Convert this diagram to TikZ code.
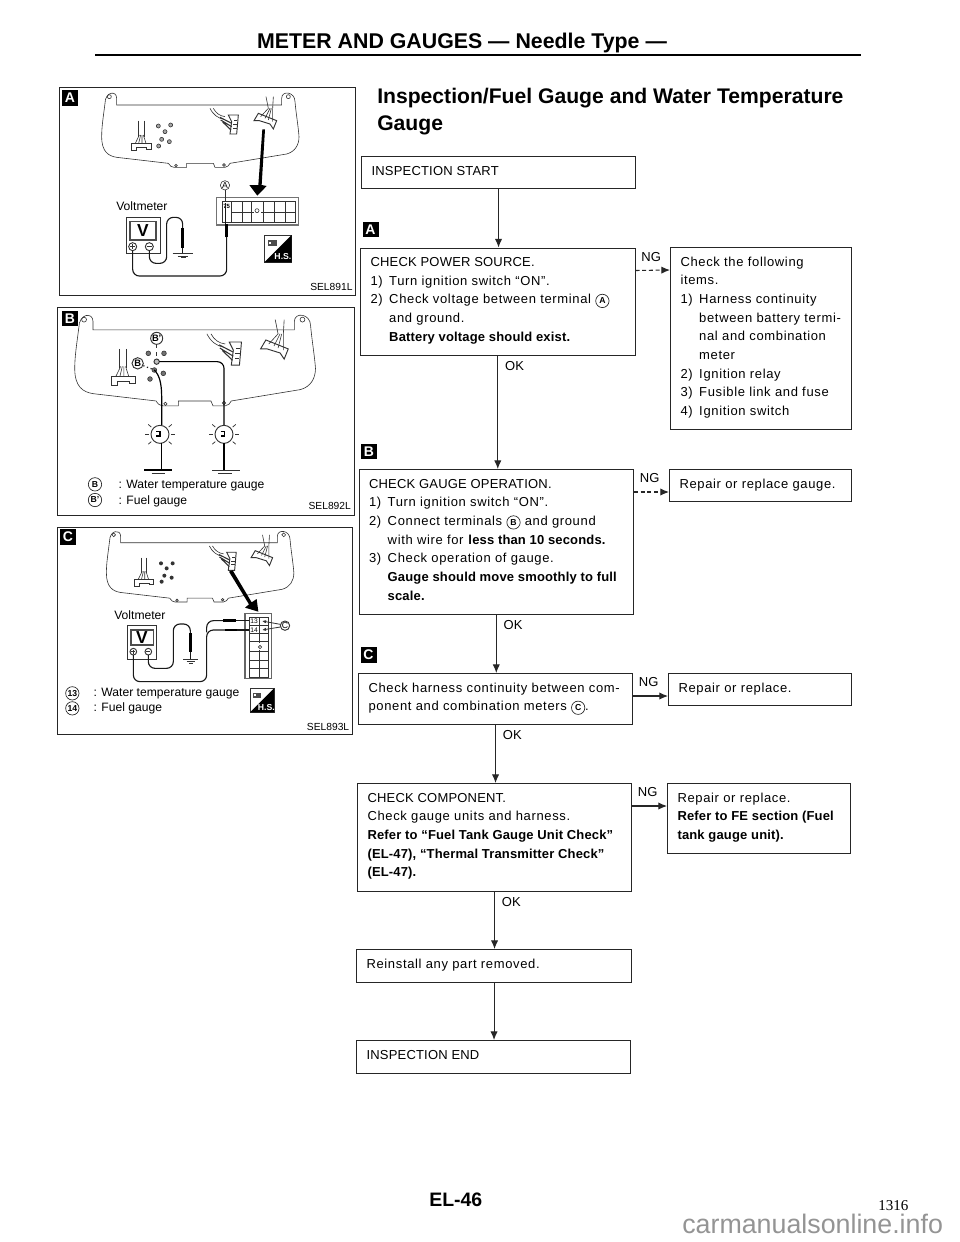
\documentclass[tikz,border=0pt]{standalone}
\usepackage{fontspec}
\usetikzlibrary{arrows.meta,calc}
\setmainfont{Liberation Sans}
\newfontfamily\bodyfam[LetterSpace=5,BoldFeatures={LetterSpace=1.2}]{Liberation Sans}
\newfontfamily\capfam[LetterSpace=1.5]{Liberation Sans}
\newfontfamily\numfam{Liberation Serif}
\newlength\pxu \setlength\pxu{0.75pt}
\newcommand\bodyf{\fontsize{9.75pt}{14pt}\selectfont\bodyfam}
\newcommand\capf{\capfam}
\newcommand\clet[1]{\tikz[baseline=(cl.base),x=1pt,y=1pt]\node[draw=black!85,circle,inner sep=0pt,line width=.5pt,minimum size=10pt,font=\fontsize{6.5pt}{7pt}\selectfont\bfseries] (cl) {#1};}
\newcommand\nli[2]{\makebox[18.7\pxu][l]{#1}#2}
\newcommand\nind{\hspace*{18.7\pxu}}
\newcommand\boxbody[3]{\parbox[c][#2\pxu][t]{#1\pxu}{\vspace*{5.2\pxu}\leftskip=10\pxu\rightskip=0pt plus 1fil\fontsize{9.75pt}{14pt}\selectfont\rule{0pt}{10pt}#3\par}}
\tikzset{
 flowbox/.style={draw=black!85,rectangle,anchor=north west,inner sep=0pt,line width=0.8pt,font=\bodyf},
 flow/.style={draw=black!85,line width=0.8pt,-{Latex[length=6.5pt,width=5.5pt]}},
 flabel/.style={anchor=base west,inner sep=0pt,font=\bodyf\capfam},
 badge/.style={fill=black,text=white,inner sep=0pt,minimum width=12pt,minimum height=11.5pt,font=\fontsize{10.5pt}{11pt}\selectfont\rmfamily},
 frame/.style={draw=black!85,line width=0.75pt},
 ln/.style={draw=black!80,line width=0.45pt},
 wire/.style={draw=black!90,line width=0.85pt,rounded corners=5pt},
 probe/.style={draw=black,line width=2pt},
 ptext/.style={anchor=base west,inner sep=0pt,font=\fontsize{9.1pt}{11pt}\selectfont},
 sel/.style={anchor=base west,inner sep=0pt,font=\fontsize{7.7pt}{9pt}\selectfont},
 zoomed/.style={x=0.25pt,y=-0.25pt}
}
\newcommand\clusterbody{%
 \draw[ln] (165,70) .. controls (160,110) and (155,140) .. (155,170) .. controls (155,215) and (175,228) .. (200,232) -- (355,250) .. controls (360,258) and (365,262) .. (372,262) -- (410,262) -- (410,250) -- (490,250) -- (495,262) -- (525,262) .. controls (533,262) and (537,255) .. (540,250) -- (710,222) .. controls (735,215) and (747,195) .. (747,170) .. controls (745,140) and (738,100) .. (735,65) .. controls (735,35) and (695,30) .. (695,55) -- (695,75) -- (200,75) -- (200,55) .. controls (200,30) and (165,35) .. (165,70) -- cycle;
 \draw[ln] (178,50) circle (6) (715,50) circle (6) (378,257) circle (4) (522,255) circle (4);
 % left connector
 \draw[ln] (265,122) -- (265,170) (282,122) -- (282,170);
 \draw[ln] (268,165) -- (256,190) (272,165) -- (266,190) (276,165) -- (276,190) (280,165) -- (288,190);
 \draw[ln,line width=.7pt] (245,190) -- (305,190) -- (305,208) -- (290,208) -- (290,203) -- (260,203) -- (260,212) -- (245,212) -- cycle;
 % sender
 \draw[ln] (480,85) .. controls (490,105) and (505,115) .. (522,118) (490,85) .. controls (498,100) and (510,108) .. (525,110);
 \draw[ln,line width=.8pt] (510,112) -- (545,130) (512,120) -- (545,140) (518,126) -- (543,150);
 \draw[ln,line width=.7pt] (535,105) -- (565,105) -- (560,162) -- (540,162) -- (545,125) -- cycle;
 \draw[ln] (552,120) -- (562,120) (550,132) -- (561,132) (550,144) -- (560,144);
 % right connector
 \draw[ln] (648,50) -- (655,85) (670,50) -- (668,85);
 \draw[ln] (655,85) -- (632,110) (660,85) -- (645,115) (664,85) -- (655,120) (668,85) -- (668,125);
 \draw[ln,line width=.7pt] (625,100) -- (680,122) -- (670,147) -- (660,132) -- (628,122) -- (612,122) -- cycle;
}
\newcommand\hsicon[3]{\begin{scope}[shift={(#1,#2)}]
 \draw[ln] (0,0) rectangle (#3,#3);
 \fill (#3,0) -- (#3,#3) -- (0,#3) -- cycle;
 \node[white,inner sep=0pt,font=\fontsize{6.5pt}{7pt}\selectfont\bfseries] at ({.68*#3},{.78*#3}) {H.S.};
 \fill[black!70] ({.12*#3},{.18*#3}) rectangle ({.45*#3},{.42*#3});
 \fill[white] ({.18*#3},{.24*#3}) rectangle ({.26*#3},{.32*#3});
 \end{scope}}
\begin{document}
\begin{tikzpicture}[x=0.75pt,y=-0.75pt]
\useasboundingbox (0,0) rectangle (960,1242);
\fill[white] (0,0) rectangle (960,1242);

% header
\node[anchor=base,inner sep=0pt,font=\fontsize{16pt}{18pt}\selectfont\bfseries] (title) at (462,48) {METER AND GAUGES — Needle Type —};
\coordinate (ruleL) at (95,55); \coordinate (ruleR) at (861,55);
\draw[black,line width=2pt] (ruleL) -- (ruleR);
\node[anchor=base west,inner sep=0pt,font=\fontsize{15.85pt}{20pt}\selectfont\bfseries] (head1) at (377,103) {Inspection/Fuel Gauge and Water Temperature};
\node[anchor=base west,inner sep=0pt,font=\fontsize{15.85pt}{20pt}\selectfont\bfseries] (head2) at (377,130) {Gauge};

% panel frames
\draw[frame] (59,87) rectangle (355,295);
\draw[frame] (57,307) rectangle (354,515);
\draw[frame] (57,527) rectangle (352,734);
\node[badge] (pA) at (70,98) {\textbf{A}};
\node[badge] (pB) at (70,318.5) {\textbf{B}};
\node[badge] (pC) at (68,537) {\textbf{C}};

% panel A
\begin{scope}[shift={(50,80)},zoomed]
 \clusterbody
 \foreach \p in {(325,138),(362,135),(345,155),(335,178),(358,185),(326,198)} {\draw[ln,fill=black!35] \p circle (6);}
 \fill (637,148) -- (645,148) -- (635,315) -- (650,318) -- (622,347) -- (598,315) -- (625,315) -- cycle;
 \draw[draw=black!55,line width=1.2pt] (500,352) rectangle (745,435);
 \draw[ln] (518,365) rectangle (735,428);
 \draw[ln] (545,365) -- (545,428) (577,365) -- (577,428) (605,365) -- (605,428) (640,365) -- (640,428) (672,365) -- (672,428) (705,365) -- (705,428) (545,396) -- (735,396);
 \fill[white] (612,382) rectangle (632,402); \draw[ln] (621,392) circle (6);
 \node[inner sep=0pt,font=\fontsize{4.5pt}{5pt}\selectfont\bfseries] at (530,380) {75};
 \draw[ln] (525,316) circle (14);
 \node[inner sep=0pt,font=\fontsize{6.5pt}{7pt}\selectfont] at (525,316) {A};
 \draw[ln] (525,330) -- (525,362);
 \node[ptext] at (198,392) {Voltmeter};
 \draw[ln,line width=.7pt] (228,412) rectangle (332,520);
 \draw[draw=black!70,line width=1pt] (240,425) rectangle (318,480);
 \node[inner sep=0pt,font=\fontsize{13pt}{14pt}\selectfont\bfseries] at (279,452) {V};
 \draw[ln,line width=.7pt] (248,500) circle (12) (298,500) circle (12);
 \draw[ln] (240,500) -- (256,500) (248,492) -- (248,508) (290,500) -- (306,500);
 \draw[wire] (298,512) -- (298,550) -- (350,550) -- (350,412) -- (398,412) -- (398,450);
 \draw[probe] (398,445) -- (398,505);
 \draw[wire] (398,505) -- (398,520);
 \draw[ln,line width=.7pt] (368,520) -- (428,520) (383,528) -- (415,528) (393,533) -- (408,533);
 \draw[wire] (248,512) -- (248,588) -- (530,588) -- (530,470);
 \draw[probe] (530,472) -- (530,432);
 \draw[wire] (527,432) -- (527,370);
 \hsicon{643}{465}{82}
 \node[sel] at (780,630) {SEL891L};
\end{scope}

% panel B
\begin{scope}[shift={(11.7,299.3)},x=0.25pt,y=-0.25pt,scale=1.22]
 \clusterbody
\end{scope}
\begin{scope}[shift={(50,300)},zoomed]
 \foreach \p in {(295,160),(342,160),(340,220),(300,237),(313,210)} {\draw[ln,fill=black!55] \p circle (7);}
 \draw[ln,line width=.7pt,fill=white] (320,115) circle (18);
 \node[inner sep=0pt,font=\fontsize{7pt}{8pt}\selectfont\bfseries] at (320,115) {B'};
 \draw[ln,dashed] (320,133) -- (320,177);
 \draw[ln,line width=.7pt,fill=black!25] (320,185) circle (8);
 \draw[ln,line width=.7pt,fill=white] (263,190) circle (17);
 \node[inner sep=0pt,font=\fontsize{7pt}{8pt}\selectfont\bfseries] at (263,190) {B};
 \draw[wire,line width=.9pt,dotted] (280,197) -- (313,210);
 \draw[draw=black,line width=.9pt] (313,210) .. controls (328,225) and (335,250) .. (335,290) -- (335,376);
 \draw[wire,draw=black] (328,185) -- (522,185) -- (522,376);
 \draw[ln,line width=.7pt] (330,403) circle (27) (522,403) circle (27);
 \draw[draw=black,line width=.9pt] (335,430) -- (335,510) (522,430) -- (522,510);
 \draw[draw=black,line width=.8pt] (318,395) -- (330,395) -- (330,408) -- (318,408) (512,395) -- (524,395) -- (524,408) -- (512,408);
 \foreach \c in {330,522} {
  \foreach \a in {-40,0,40,140,180,220} {\draw[ln,line width=.55pt] ($(\c,403)+(\a:34)$) -- ($(\c,403)+(\a:46)$);}
 }
 \draw[draw=black,line width=.9pt] (283,510) -- (365,510);
 \draw[ln] (305,520) -- (345,520);
 \draw[ln] (487,510) -- (570,510) (505,520) -- (545,520);
 \node[inner sep=0pt] at (135,553) {\clet{B}};
 \node[inner sep=0pt] at (135,600) {\clet{B'}};
 \node[ptext] at (205,565) {: Water temperature gauge};
 \node[ptext] at (205,612) {: Fuel gauge};
 \node[sel] at (775,628) {SEL892L};
\end{scope}

% panel C
\begin{scope}[shift={(57.3,519)},x=0.25pt,y=-0.25pt,scale=0.95]
 \clusterbody
\end{scope}
\begin{scope}[shift={(50,515)},zoomed]
 \foreach \p in {(333,145),(368,145),(350,160),(343,182),(365,188),(335,200)} {\fill[black!80] \p circle (6);}
 \fill (537,170) -- (548,166) -- (605,262) -- (620,252) -- (625,290) -- (585,278) -- (597,268) -- cycle;
 \draw[draw=black!60,line width=1.2pt] (585,295) rectangle (665,490);
 \draw[ln] (597,308) rectangle (655,488);
 \draw[ln] (597,332) -- (655,332) (597,355) -- (655,355) (597,380) -- (655,380) (597,408) -- (655,408) (597,435) -- (655,435) (597,460) -- (655,460) (627,308) -- (627,488);
 \fill[white] (615,385) rectangle (642,405);
 \draw[ln] (630,396) circle (5);
 \fill[white] (600,310) rectangle (624,326); \fill[white] (600,337) rectangle (624,353);
 \node[inner sep=0pt,font=\fontsize{5pt}{5pt}\selectfont] at (612,318) {13};
 \node[inner sep=0pt,font=\fontsize{5pt}{5pt}\selectfont] at (612,345) {14};
 \draw[ln,line width=.7pt] (705,332) circle (14);
 \node[inner sep=0pt,font=\fontsize{6.5pt}{7pt}\selectfont] at (705,332) {C};
 \draw[ln,line width=.6pt,-{Latex[length=3pt,width=2.5pt]}] (691,328) -- (636,318);
 \draw[ln,line width=.6pt,-{Latex[length=3pt,width=2.5pt]}] (691,336) -- (636,345);
 \node[ptext] at (192,312) {Voltmeter};
 \draw[ln,line width=.7pt] (232,332) rectangle (320,432);
 \draw[draw=black!70,line width=1pt] (243,345) rectangle (310,390);
 \node[inner sep=0pt,font=\fontsize{13pt}{14pt}\selectfont\bfseries] at (276,367) {V};
 \draw[ln,line width=.7pt] (250,410) circle (10) (295,410) circle (10);
 \draw[ln] (244,410) -- (256,410) (250,404) -- (250,416) (289,410) -- (301,410);
 \draw[wire] (295,420) -- (295,460) -- (370,460) -- (370,327) -- (421,327) -- (421,360);
 \draw[probe] (422,355) -- (422,412);
 \draw[wire] (422,412) -- (422,433);
 \draw[ln,line width=.7pt] (400,433) -- (445,433) (410,440) -- (435,440) (418,445) -- (428,445);
 \draw[wire] (250,420) -- (250,500) -- (470,500) -- (470,345) -- (525,345);
 \draw[wire] (470,352) -- (470,317) -- (520,317);
 \draw[probe] (520,317) -- (558,317) (525,345) -- (560,345);
 \draw[wire] (558,317) -- (598,317) (560,345) -- (598,345);
 \node[inner sep=0pt] at (67,535) {\clet{13}};
 \node[inner sep=0pt] at (67,580) {\clet{14}};
 \node[ptext] at (130,545) {: Water temperature gauge};
 \node[ptext] at (130,590) {: Fuel gauge};
 \hsicon{600}{520}{72}
 \node[sel] at (770,645) {SEL893L};
\end{scope}

% flow badges
\node[badge] (fA) at (370.5,229.5) {\textbf{A}};
\node[badge] (fB) at (369,451.5) {\textbf{B}};
\node[badge] (fC) at (368.5,655) {\textbf{C}};

% flow boxes
\node[flowbox] (start) at (361,156) {\boxbody{274}{32}{\capf INSPECTION START}};
\node[flowbox] (bA) at (360,247.5) {\boxbody{274.5}{107}{{\capf CHECK POWER SOURCE.}\\\nli{1)}{Turn ignition switch “ON”.}\\\nli{2)}{Check voltage between terminal \clet{A}}\\\nind and ground.\\\nind\textbf{Battery voltage should exist.}}};
\node[flowbox] (chk) at (670,247) {\boxbody{181}{182}{Check the following\\items.\\\nli{1)}{Harness continuity}\\\nind between battery termi-\\\nind nal and combination\\\nind meter\\\nli{2)}{Ignition relay}\\\nli{3)}{Fusible link and fuse}\\\nli{4)}{Ignition switch}}};
\node[flowbox] (bB) at (358.5,469) {\boxbody{274.5}{145}{{\capf CHECK GAUGE OPERATION.}\\\nli{1)}{Turn ignition switch “ON”.}\\\nli{2)}{Connect terminals \clet{B} and ground}\\\nind with wire for \textbf{less than 10 seconds.}\\\nli{3)}{Check operation of gauge.}\\\nind\textbf{Gauge should move smoothly to full}\\\nind\textbf{scale.}}};
\node[flowbox] (rg) at (669,469) {\boxbody{182}{32}{Repair or replace gauge.}};
\node[flowbox] (bC) at (358,673) {\boxbody{274}{51}{Check harness continuity between com-\\ponent and combination meters \clet{C}.}};
\node[flowbox] (rr) at (668,673) {\boxbody{183}{32}{Repair or replace.}};
\node[flowbox] (comp) at (357,783) {\boxbody{274}{108}{{\capf CHECK COMPONENT.}\\Check gauge units and harness.\\\textbf{Refer to “Fuel Tank Gauge Unit Check”}\\\textbf{(EL-47), “Thermal Transmitter Check”}\\\textbf{(EL-47).}}};
\node[flowbox] (rf) at (667,783) {\boxbody{183}{70}{Repair or replace.\\\textbf{Refer to FE section (Fuel}\\\textbf{tank gauge unit).}}};
\node[flowbox] (rein) at (356,949) {\boxbody{275}{33}{Reinstall any part removed.}};
\node[flowbox] (endb) at (356,1040) {\boxbody{274}{33}{\capf INSPECTION END}};

% vertical flow
\draw[flow] (start.south) -- (start.south |- bA.north);
\draw[flow] (bA.south) -- (bA.south |- bB.north);
\draw[flow] (bB.south) -- (bB.south |- bC.north);
\draw[flow] (bC.south) -- (bC.south |- comp.north);
\draw[flow] (comp.south) -- (comp.south |- rein.north);
\draw[flow] (rein.south) -- (rein.south |- endb.north);
% NG arrows
\foreach \a/\b/\st in {bA/chk/densely dashed,bB/rg/densely dashed,bC/rr/solid,comp/rf/solid} {
 \draw[flow,\st] ($(\a.north east)+(0,23)$) -- ($(\b.north west)+(0,23)$);
 \node[flabel] at ($(\a.north east)+(5.5,13.5)$) {NG};
}
\foreach \a in {bA,bB,bC,comp} {\node[flabel] at ($(\a.south)+(7,14.5)$) {OK};}

% footer
\node[anchor=base west,inner sep=0pt,font=\fontsize{14.6pt}{16pt}\selectfont\bfseries] (pg) at (429,1206) {EL-46};
\node[anchor=base west,inner sep=0pt,font=\fontsize{11.3pt}{12pt}\selectfont\numfam] (num) at (878,1210) {1316};
\node[anchor=base west,inner sep=0pt,text=black!42,font=\fontsize{20.1pt}{22pt}\selectfont] (wm) at (682,1233) {carmanualsonline.info};
\end{tikzpicture}
\end{document}
